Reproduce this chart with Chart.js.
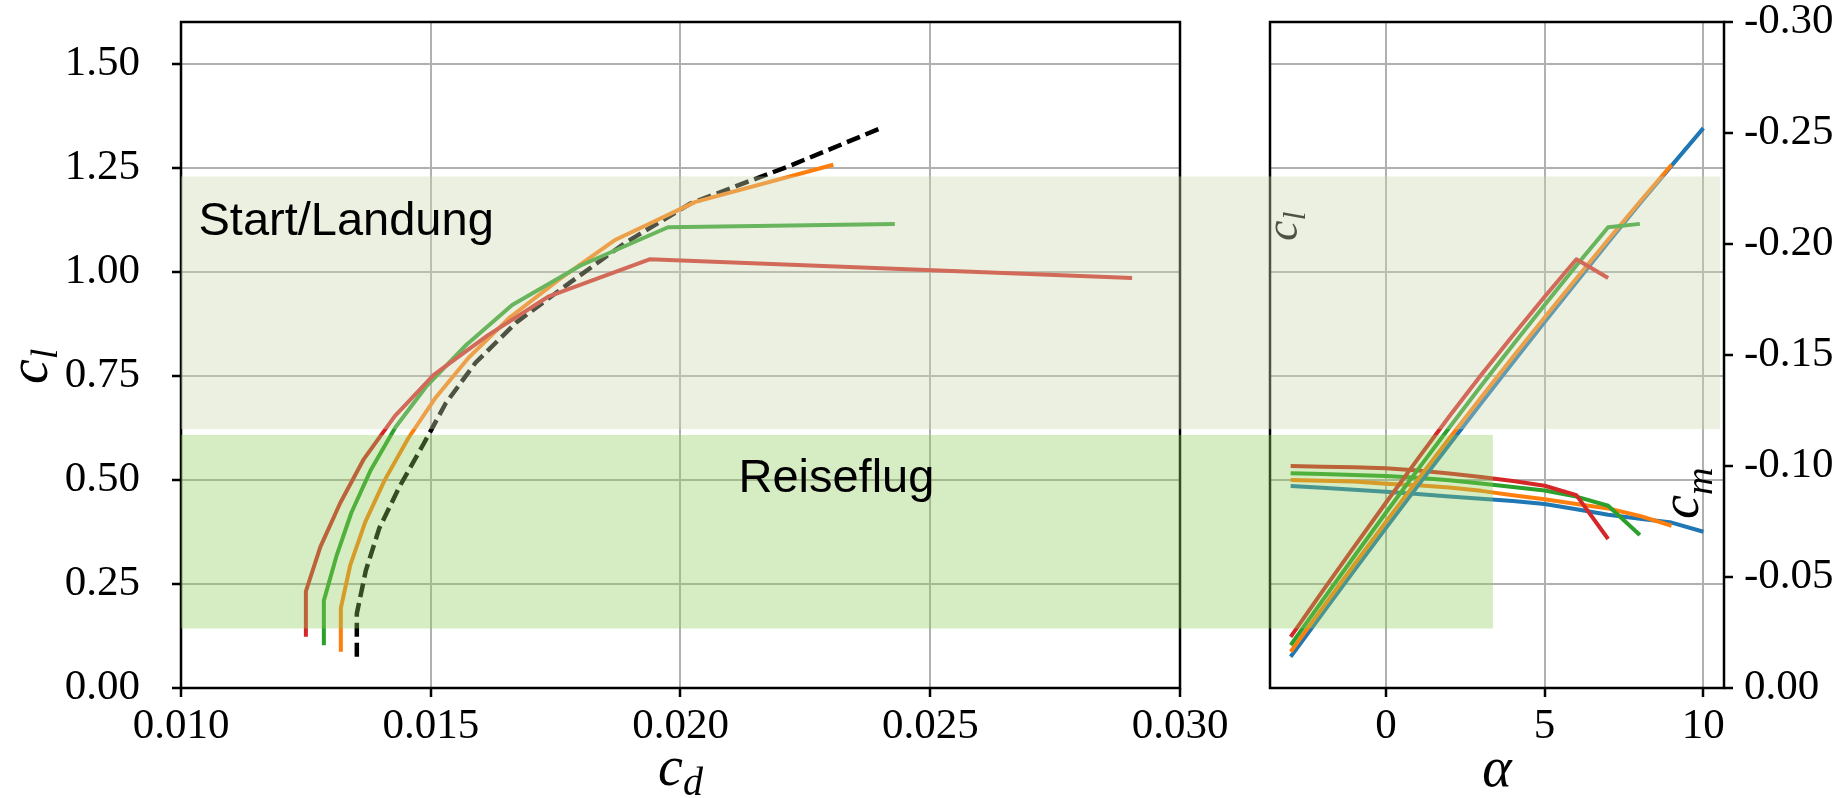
<!DOCTYPE html>
<html>
<head>
<meta charset="utf-8">
<title>Polare und Auftrieb</title>
<script src="https://cdn.jsdelivr.net/npm/chart.js@4.4.0/dist/chart.umd.min.js"></script>
<style>
  html, body { margin: 0; padding: 0; background: #fff; }
  #wrap { position: relative; width: 1847px; height: 798px; overflow: hidden; }
  #polar { position: absolute; left: 0; top: 0; width: 1240px; height: 798px; }
  #alpha { position: absolute; left: 1240px; top: 0; width: 607px; height: 798px; }
</style>
</head>
<body>
<div id="wrap">
  <canvas id="polar" width="1240" height="798"></canvas>
  <canvas id="alpha" width="607" height="798"></canvas>
</div>
<script>
// Varianten: Anstellwinkel, Auftrieb, Widerstand, Moment
const alphaRed = [-3, -2, -1, 0, 1, 2, 3, 4, 5, 6, 7];
const clRed = [0.123, 0.232, 0.339, 0.445, 0.550, 0.653, 0.752, 0.847, 0.940, 1.030, 0.985];
const cdRed = [0.01250, 0.01250, 0.01279, 0.01319, 0.01366, 0.01428, 0.01506, 0.01614, 0.01735, 0.01938, 0.02904];
const cmRed = [-0.1000, -0.0997, -0.0994, -0.0990, -0.0980, -0.0966, -0.0950, -0.0932, -0.0911, -0.0869, -0.0671];

const alphaGreen = [-3, -2, -1, 0, 1, 2, 3, 4, 5, 6, 7, 8];
const clGreen = [0.103, 0.210, 0.316, 0.421, 0.524, 0.626, 0.726, 0.824, 0.920, 1.015, 1.107, 1.115];
const cdGreen = [0.01286, 0.01286, 0.01311, 0.01341, 0.01380, 0.01429, 0.01492, 0.01571, 0.01663, 0.01800, 0.01975, 0.02429];
const cmGreen = [-0.0967, -0.0964, -0.0960, -0.0955, -0.0947, -0.0936, -0.0921, -0.0905, -0.0890, -0.0862, -0.0821, -0.0689];

const alphaOrange = [-3, -2, -1, 0, 1, 2, 3, 4, 5, 6, 7, 8, 9];
const clOrange = [0.087, 0.192, 0.296, 0.399, 0.500, 0.600, 0.698, 0.795, 0.890, 0.984, 1.077, 1.168, 1.257];
const cdOrange = [0.01320, 0.01320, 0.01339, 0.01369, 0.01408, 0.01455, 0.01510, 0.01577, 0.01658, 0.01760, 0.01870, 0.02030, 0.02306];
const cmOrange = [-0.0937, -0.0934, -0.0930, -0.0920, -0.0913, -0.0903, -0.0888, -0.0868, -0.0850, -0.0829, -0.0809, -0.0775, -0.0731];

const alphaBlue = [-3, -2, -1, 0, 1, 2, 3, 4, 5, 6, 7, 8, 9, 10];
const clBlue = [0.075, 0.179, 0.282, 0.384, 0.485, 0.585, 0.684, 0.782, 0.879, 0.975, 1.070, 1.164, 1.255, 1.345];
const cdBlue = [0.01352, 0.01352, 0.01370, 0.01397, 0.01438, 0.01485, 0.01530, 0.01590, 0.01672, 0.01780, 0.01890, 0.02020, 0.02220, 0.02401];
const cmBlue = [-0.0910, -0.0902, -0.0893, -0.0884, -0.0874, -0.0863, -0.0852, -0.0842, -0.0829, -0.0805, -0.0780, -0.0762, -0.0745, -0.0704];

// Betriebsbereiche (cl von/bis) und wo sie im rechten Diagramm enden (alpha)
const bandTakeoff = [0.622, 1.229];
const bandCruise = [0.143, 0.608];
const takeoffEndAlpha = 10.53;
const cruiseEndAlpha = 3.37;
const takeoffText = 'Start/Landung';
const cruiseText = 'Reiseflug';
const takeoffTextAt = [0.01035, 1.089];
const cruiseTextAt = [0.02116, 0.471];

// Achsen: min, max, Schritt
const cdTicks = [0.010, 0.030, 0.005];
const clTicks = [0, 1.6, 0.25];
const alphaTicks = [-3.65, 10.65, 5];
const cmTicks = [-0.30, 0, 0.05];

const RED = '#d62728', GREEN = '#2ca02c', ORANGE = '#ff7f0e', BLUE = '#1f77b4';
const serif = '"Liberation Serif", "Times New Roman", serif';
const sans = '"Liberation Sans", Arial, sans-serif';

function pts(xs, ys) {
  return xs.map((x, i) => ({ x: x, y: ys[i] }));
}

function line(data, color, axis) {
  return {
    data: data, borderColor: color, borderWidth: 4, pointRadius: 0,
    showLine: true, tension: 0, fill: false, yAxisID: axis || 'y',
    borderJoinStyle: 'round'
  };
}

function gridOpts(show) {
  return { display: true, drawOnChartArea: show, color: '#b0b0b0', lineWidth: 2,
           tickColor: '#000', tickLength: 9, tickWidth: 2.5 };
}

function tickOpts(fmt, pad) {
  return { font: { family: serif, size: 43 }, color: '#000', padding: pad,
           maxRotation: 0, autoSkip: false, includeBounds: false, callback: fmt };
}

// feste Achsenbreite/-höhe, kein automatischer Rand für Randbeschriftungen
function fixSize(key, val) {
  return s => {
    s[key] = val;
    s.paddingTop = 0; s.paddingBottom = 0; s.paddingLeft = 0; s.paddingRight = 0;
  };
}

// c mit Index, wahlweise gedreht
function mathLabel(ctx, x, y, base, sub, size, subSize, drop, rotated, centered) {
  ctx.save();
  ctx.translate(x, y);
  if (rotated) ctx.rotate(-Math.PI / 2);
  ctx.fillStyle = '#000';
  ctx.textBaseline = 'alphabetic';
  ctx.textAlign = 'left';
  ctx.font = 'italic ' + size + 'px ' + serif;
  const w = ctx.measureText(base).width;
  ctx.font = 'italic ' + subSize + 'px ' + serif;
  const ws = sub ? ctx.measureText(sub).width : 0;
  const x0 = centered ? -(w + ws) / 2 : 0;
  ctx.font = 'italic ' + size + 'px ' + serif;
  ctx.fillText(base, x0, 0);
  if (sub) {
    ctx.font = 'italic ' + subSize + 'px ' + serif;
    ctx.fillText(sub, x0 + w, drop);
  }
  ctx.restore();
}

function frame(ctx, a) {
  ctx.save();
  ctx.strokeStyle = '#000';
  ctx.lineWidth = 2.5;
  ctx.strokeRect(a.left, a.top, a.right - a.left, a.bottom - a.top);
  ctx.restore();
}

function band(ctx, y, range, x0, x1, color) {
  const top = y.getPixelForValue(range[1]);
  const bot = y.getPixelForValue(range[0]);
  ctx.save();
  ctx.fillStyle = color;
  ctx.fillRect(x0, top, x1 - x0, bot - top);
  ctx.restore();
}

const takeoffFill = 'rgba(205, 216, 174, 0.38)';
const cruiseFill = 'rgba(144, 204, 90, 0.37)';

// linkes Diagramm: Polare cl über cd
const polarPlugin = {
  id: 'polarDeko',
  afterDraw(chart) {
    const ctx = chart.ctx, a = chart.chartArea;
    const x = chart.scales.x, y = chart.scales.y;
    frame(ctx, a);
    mathLabel(ctx, (a.left + a.right) / 2, 785, 'c', 'd', 56, 40, 10, false, true);
    mathLabel(ctx, 47, 384, 'c', 'l', 56, 38, 10, true, false);
    band(ctx, y, bandTakeoff, a.left, chart.width, takeoffFill);
    band(ctx, y, bandCruise, a.left, chart.width, cruiseFill);
    ctx.save();
    ctx.fillStyle = '#000';
    ctx.font = '47px ' + sans;
    ctx.textBaseline = 'alphabetic';
    ctx.fillText(takeoffText, x.getPixelForValue(takeoffTextAt[0]), y.getPixelForValue(takeoffTextAt[1]));
    ctx.fillText(cruiseText, x.getPixelForValue(cruiseTextAt[0]), y.getPixelForValue(cruiseTextAt[1]));
    ctx.restore();
  }
};

new Chart(document.getElementById('polar'), {
  type: 'scatter',
  data: {
    datasets: [
      line(pts(cdRed, clRed), RED),
      line(pts(cdGreen, clGreen), GREEN),
      line(pts(cdOrange, clOrange), ORANGE),
      Object.assign(line(pts(cdBlue, clBlue), '#000'), { borderDash: [14, 6], borderWidth: 4.5 })
    ]
  },
  options: {
    responsive: false, animation: false, devicePixelRatio: 1,
    layout: { padding: { top: 22, right: 60, left: 0, bottom: 0 } },
    plugins: { legend: { display: false }, tooltip: { enabled: false } },
    scales: {
      x: {
        type: 'linear', min: cdTicks[0], max: cdTicks[1],
        ticks: Object.assign(tickOpts(v => v.toFixed(3), 4), { stepSize: cdTicks[2] }),
        grid: gridOpts(true), border: { display: false },
        afterFit: fixSize('height', 110)
      },
      y: {
        type: 'linear', min: clTicks[0], max: clTicks[1],
        ticks: Object.assign(tickOpts(v => v.toFixed(2), 32), { stepSize: clTicks[2] }),
        grid: gridOpts(true), border: { display: false },
        afterFit: fixSize('width', 181)
      }
    }
  },
  plugins: [polarPlugin]
});

// rechtes Diagramm: cl und cm über alpha
const alphaPlugin = {
  id: 'alphaDeko',
  afterDraw(chart) {
    const ctx = chart.ctx, a = chart.chartArea;
    const x = chart.scales.x, y = chart.scales.y;
    frame(ctx, a);
    mathLabel(ctx, (a.left + a.right) / 2, 786, '\u03b1', '', 56, 40, 0, false, true);
    mathLabel(ctx, 57, 241, 'c', 'l', 46, 32, 8, true, false);
    mathLabel(ctx, 458, 519, 'c', 'm', 54, 38, 14, true, false);
    band(ctx, y, bandTakeoff, 0, x.getPixelForValue(takeoffEndAlpha), takeoffFill);
    band(ctx, y, bandCruise, 0, x.getPixelForValue(cruiseEndAlpha), cruiseFill);
  }
};

new Chart(document.getElementById('alpha'), {
  type: 'scatter',
  data: {
    datasets: [
      line(pts(alphaRed, clRed), RED),
      line(pts(alphaGreen, clGreen), GREEN),
      line(pts(alphaOrange, clOrange), ORANGE),
      line(pts(alphaBlue, clBlue), BLUE),
      line(pts(alphaRed, cmRed), RED, 'y2'),
      line(pts(alphaGreen, cmGreen), GREEN, 'y2'),
      line(pts(alphaOrange, cmOrange), ORANGE, 'y2'),
      line(pts(alphaBlue, cmBlue), BLUE, 'y2')
    ]
  },
  options: {
    responsive: false, animation: false, devicePixelRatio: 1,
    layout: { padding: { top: 22, right: 0, left: 0, bottom: 0 } },
    plugins: { legend: { display: false }, tooltip: { enabled: false } },
    scales: {
      x: {
        type: 'linear', min: alphaTicks[0], max: alphaTicks[1],
        ticks: Object.assign(tickOpts(v => String(v), 4), { stepSize: alphaTicks[2] }),
        grid: gridOpts(true), border: { display: false },
        afterFit: fixSize('height', 110)
      },
      y: {
        type: 'linear', position: 'left', min: clTicks[0], max: clTicks[1],
        ticks: Object.assign(tickOpts(v => '', 0), { stepSize: clTicks[2], display: false }),
        grid: Object.assign(gridOpts(true), { drawTicks: false }), border: { display: false },
        afterFit: fixSize('width', 30)
      },
      y2: {
        type: 'linear', position: 'right', reverse: true, min: cmTicks[0], max: cmTicks[1],
        ticks: Object.assign(tickOpts(v => v.toFixed(2), 11), { stepSize: cmTicks[2] }),
        grid: gridOpts(false), border: { display: false },
        afterFit: fixSize('width', 123)
      }
    }
  },
  plugins: [alphaPlugin]
});
</script>
</body>
</html>
